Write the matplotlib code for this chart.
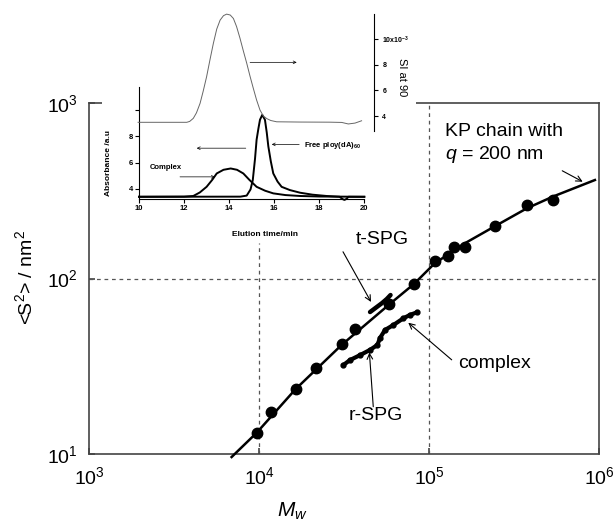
import matplotlib
matplotlib.use("Agg")
import matplotlib.pyplot as plt
from matplotlib.patches import Rectangle
from matplotlib.ticker import FixedLocator, NullLocator, FixedFormatter

plt.rcParams['font.family'] = ['Liberation Sans', 'DejaVu Sans']
plt.rcParams['mathtext.fontset'] = 'custom'
plt.rcParams['mathtext.rm'] = 'Liberation Sans'
plt.rcParams['mathtext.it'] = 'Liberation Sans:italic'
plt.rcParams['mathtext.bf'] = 'Liberation Sans:bold'

# main panel data
mw_pts = [9680, 11800, 16400, 21700, 30600, 36700, 58300, 81600, 108000,
          129000, 140000, 163000, 243000, 376000, 536000]
s2_pts = [13.2, 17.4, 23.6, 30.8, 42.2, 51.4, 71.5, 93.1, 126,
          134, 152, 152, 198, 261, 279]

kp_mw = [6900, 9680, 16400, 30600, 58300, 81600, 108000, 163000, 243000,
         376000, 536000, 946000]
kp_s2 = [9.61, 13.2, 23.4, 41.8, 71.1, 93.1, 122, 159, 198, 251, 293, 364]

tspg_mw = [45000, 49000, 53000, 56500, 59400]
tspg_s2 = [64.4, 68.5, 72.5, 76.5, 80.5]

cplx_mw = [31300, 34300, 39300, 45000, 49700, 51500, 55100, 61700, 70600, 77300, 84700]
cplx_s2 = [32.1, 34.3, 36.6, 39.2, 41.8, 45.8, 50.9, 54.3, 59.3, 62.0, 64.1]

# inset data
si_t = [9.96, 12.12, 12.25, 12.41, 12.55, 12.71, 12.85, 13.00, 13.15, 13.30, 13.45,
        13.60, 13.75, 13.89, 14.05, 14.19, 14.33, 14.48, 14.63, 14.78, 14.93,
        15.07, 15.22, 15.37, 15.52, 15.67, 15.85, 16.11, 17.15, 18.48, 19.0,
        19.29, 19.59, 19.88]
si_v = [3.51, 3.51, 3.58, 3.82, 4.25, 4.99, 5.95, 7.07, 8.4, 9.68, 10.8,
        11.5, 11.85, 11.97, 11.9, 11.63, 11.0, 10.1, 9.1, 8.14, 7.1,
        6.19, 5.25, 4.47, 4.0, 3.80, 3.65, 3.55, 3.53, 3.52, 3.50,
        3.38, 3.45, 3.63]

cx_t = [10, 12.0, 12.41, 12.7, 13.0, 13.25, 13.45, 13.75, 14.07, 14.35, 14.63,
        14.9, 15.22, 15.6, 15.96, 16.5, 17.15, 18.0, 20.0]
cx_a = [3.39, 3.40, 3.45, 3.72, 4.15, 4.68, 5.17, 5.45, 5.55, 5.45, 5.17,
        4.68, 4.15, 3.85, 3.65, 3.52, 3.45, 3.41, 3.39]

fr_t = [10, 14.5, 14.78, 14.95, 15.05, 15.15, 15.22, 15.3, 15.37, 15.47, 15.59,
        15.67, 15.74, 15.85, 15.96, 16.15, 16.33, 16.7, 17.15, 17.7, 18.33,
        18.9, 19.05, 19.12, 19.2, 19.3, 20.0]
fr_a = [3.39, 3.40, 3.48, 3.95, 4.66, 6.3, 7.75, 8.6, 9.27, 9.64, 9.27,
        8.3, 7.24, 6.1, 5.17, 4.55, 4.15, 3.9, 3.70, 3.55, 3.45,
        3.39, 3.2, 3.15, 3.22, 3.39, 3.39]

W, H = 615, 527
fig = plt.figure(figsize=(W / 100, H / 100), dpi=100)

def box(l, t, r, b):
    return [l / W, 1 - b / H, (r - l) / W, (b - t) / H]

# ---- main axes
ax = fig.add_axes(box(89, 103, 599, 454))
ax.set_xscale('log')
ax.set_yscale('log')
ax.set_xlim(1e3, 1e6)
ax.set_ylim(10, 1000)
for s in ax.spines.values():
    s.set_color('#444444')
    s.set_linewidth(1.2)
ax.xaxis.set_minor_locator(NullLocator())
ax.yaxis.set_minor_locator(NullLocator())
ax.tick_params(direction='in', length=4, width=1.2, color='#444444', labelsize=14)
ax.tick_params(axis='x', pad=9)
ax.tick_params(axis='y', pad=8)

dash = dict(color='#555555', lw=0.9, ls=(0, (3, 3)))
ax.plot([1e4, 1e4], [10, 159], **dash)
ax.axvline(1e5, **dash)
ax.axhline(100, **dash)

ax.plot(kp_mw, kp_s2, color='black', lw=1.8, clip_on=False, zorder=3)
ax.plot(mw_pts, s2_pts, 'o', color='black', ms=7.5, zorder=4)
ax.plot(tspg_mw, tspg_s2, color='black', lw=3.2, solid_capstyle='round', zorder=4)
ax.plot(cplx_mw, cplx_s2, color='black', lw=3.0, marker='o', ms=3.5,
        solid_capstyle='round', zorder=4)

arr = dict(arrowstyle='->', color='black', lw=0.8, shrinkA=0, shrinkB=0)
ax.text(53000, 166, 't-SPG', fontsize=14, ha='center', va='center')
ax.annotate('', xy=(45600, 73.5), xytext=(31200, 142), arrowprops=arr)
ax.text(244000, 32.6, 'complex', fontsize=14, ha='center', va='center')
ax.annotate('', xy=(75500, 56.0), xytext=(136000, 34.4), arrowprops=arr)
ax.text(48800, 16.5, 'r-SPG', fontsize=14, ha='center', va='center')
ax.annotate('', xy=(44600, 37.9), xytext=(47000, 18.6), arrowprops=arr)
ax.text(124000, 692, 'KP chain with', fontsize=14, ha='left', va='center')
ax.text(124000, 506, r'$q$ = 200 nm', fontsize=14, ha='left', va='center')
ax.annotate('', xy=(802000, 356), xytext=(608000, 411), arrowprops=arr)

fig.text(25 / W, 1 - 278 / H, r'<S$^2$> / nm$^2$', fontsize=14,
         rotation=90, ha='center', va='center')
fig.text(292 / W, 1 - 511 / H, r'$M_w$', fontsize=15, ha='center', va='center')

# white area behind the inset
fig.add_artist(Rectangle((102 / W, 1 - 225 / H), (416 - 102) / W, 225 / H,
                         transform=fig.transFigure, facecolor='white',
                         edgecolor='none', zorder=2))

# ---- inset: absorbance
ib = dict(fontsize=5.5, fontweight='bold')
axA = fig.add_axes(box(139, 87, 364.3, 199))
axA.set_zorder(3)
axA.patch.set_alpha(0)
axA.set_xlim(10, 20)
axA.set_ylim(3.22, 11.77)
axA.spines['top'].set_visible(False)
axA.spines['right'].set_visible(False)
for s in ['left', 'bottom']:
    axA.spines[s].set_linewidth(0.8)
axA.xaxis.set_major_locator(FixedLocator([10, 12, 14, 16, 18, 20]))
axA.yaxis.set_major_locator(FixedLocator([4, 6, 8, 10]))
axA.yaxis.set_major_formatter(FixedFormatter(['4', '6', '8', '']))
axA.tick_params(direction='out', length=3, width=0.8, pad=1.5)
for lb in axA.get_xticklabels() + axA.get_yticklabels():
    lb.set_fontsize(5.5)
    lb.set_fontweight('bold')
axA.plot(cx_t, cx_a, color='black', lw=1.4, clip_on=False)
axA.plot(fr_t, fr_a, color='black', lw=1.4, clip_on=False)

arr2 = dict(arrowstyle='->', color='black', lw=0.5, shrinkA=0, shrinkB=0,
            mutation_scale=5)
axA.annotate('', xy=(12.56, 7.1), xytext=(14.74, 7.1), arrowprops=arr2)
axA.annotate('', xy=(13.37, 4.91), xytext=(11.82, 4.91), arrowprops=arr2)
axA.text(11.18, 5.64, 'Complex', ha='center', va='center', **ib)
axA.annotate('', xy=(15.89, 7.39), xytext=(17.11, 7.39), arrowprops=arr2)
axA.text(17.32, 7.3, r'Free ploy(dA)$_{\mathbf{60}}$', ha='left', va='center', **ib)

fig.text(108 / W, 1 - 163 / H, 'Absorbance /a.u', rotation=90,
         ha='center', va='center', fontsize=6, fontweight='bold')
fig.text(265 / W, 1 - 235 / H, 'Elution time/min', ha='center', va='center',
         fontsize=6, fontweight='bold')

# ---- inset: light scattering
axS = fig.add_axes(box(139, 14, 374, 131))
axS.set_zorder(3)
axS.patch.set_alpha(0)
axS.set_xlim(10, 10 + 235 / 22.53)
axS.set_ylim(2.83, 11.98)
for s in ['top', 'left', 'bottom']:
    axS.spines[s].set_visible(False)
axS.spines['right'].set_linewidth(0.8)
axS.set_xticks([])
axS.yaxis.tick_right()
axS.yaxis.set_major_locator(FixedLocator([4, 6, 8, 10]))
axS.yaxis.set_major_formatter(FixedFormatter(['4', '6', '8', r'10x10$^{\mathbf{-3}}$']))
axS.tick_params(direction='out', length=3, width=0.8, pad=3)
for lb in axS.get_yticklabels():
    lb.set_fontsize(5)
    lb.set_fontweight('bold')
axS.plot(si_t, si_v, color='#666666', lw=0.7, clip_on=False)
axS.annotate('', xy=(17.0, 8.2), xytext=(14.93, 8.2), arrowprops=arr2)
fig.text(402 / W, 1 - 77 / H, 'SI at 90', rotation=270, ha='center',
         va='center', fontsize=8)

fig.savefig('out.png', dpi=100)
